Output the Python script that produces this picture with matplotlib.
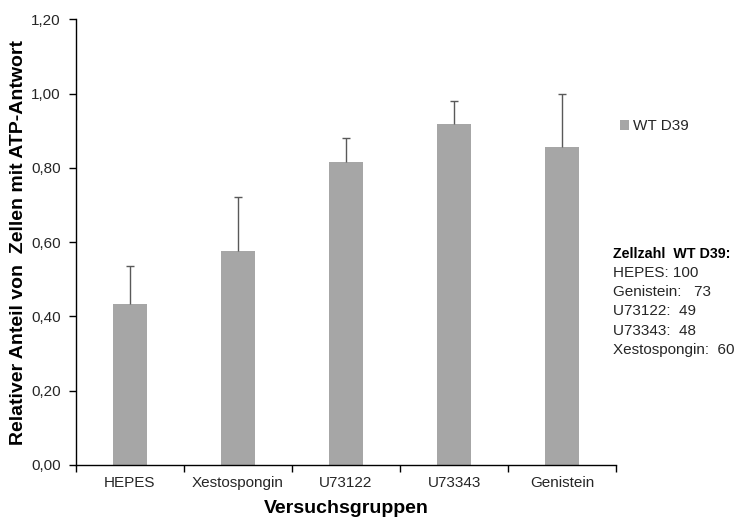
import matplotlib
matplotlib.use("Agg")
import matplotlib.pyplot as plt
from matplotlib.ticker import FuncFormatter, FixedLocator

plt.rcParams['font.family'] = ['Liberation Sans', 'DejaVu Sans']

categories = ["HEPES", "Xestospongin", "U73122", "U73343", "Genistein"]
values = [0.433, 0.576, 0.815, 0.918, 0.856]
errors = [0.103, 0.145, 0.066, 0.062, 0.143]
series_name = "WT D39"
counts_title = "Zellzahl  WT D39:"
counts_lines = ["HEPES: 100", "Genistein:   73", "U73122:  49", "U73343:  48", "Xestospongin:  60"]

fig = plt.figure(figsize=(7.37, 5.2), dpi=100)
ax = fig.add_axes([0.103, 0.106, 0.733, 0.857])

x = list(range(len(categories)))
ax.bar(x, values, width=0.31, color="#a6a6a6", label=series_name, zorder=2)
eb = ax.errorbar(x, values, yerr=[[0]*len(errors), errors], fmt="none",
                 ecolor="#595959", elinewidth=1, capsize=3, capthick=1, zorder=3)
eb[1][0].set_visible(False)

ax.set_xlim(-0.5, len(categories) - 0.5)
ax.set_ylim(0, 1.2)
ax.set_yticks([0, 0.2, 0.4, 0.6, 0.8, 1.0, 1.2])
ax.yaxis.set_major_formatter(FuncFormatter(lambda v, p: f"{v:.2f}".replace(".", ",")))
ax.set_xticks(x)
ax.set_xticklabels(categories)
ax.xaxis.set_minor_locator(FixedLocator([i - 0.5 for i in range(len(categories) + 1)]))
ax.tick_params(axis="x", which="major", length=0, pad=8, labelsize=11, labelcolor="#262626")
ax.tick_params(axis="x", which="minor", length=5, width=1, direction="out")
ax.tick_params(axis="y", length=5, width=1, direction="out", labelsize=11, pad=6, labelcolor="#262626")

for s in ["top", "right"]:
    ax.spines[s].set_visible(False)
for s in ["left", "bottom"]:
    ax.spines[s].set_linewidth(1)

ax.set_ylabel("Relativer Anteil von  Zellen mit ATP-Antwort", fontsize=14, fontweight="bold", labelpad=3)
ax.set_xlabel("Versuchsgruppen", fontsize=14, fontweight="bold", labelpad=7)

leg = fig.legend(loc="center left", bbox_to_anchor=(0.822, 0.757), frameon=False,
                 fontsize=11, handlelength=0.6, handleheight=0.6, handletextpad=0.3,
                 labelcolor="#262626")

fig.text(0.832, 0.512, counts_title, fontsize=10.3, fontweight="bold", va="center")
for i, line in enumerate(counts_lines):
    fig.text(0.832, 0.475 - i * 0.037, line, fontsize=11, va="center", color="#262626")

fig.savefig("out.png", dpi=100)
